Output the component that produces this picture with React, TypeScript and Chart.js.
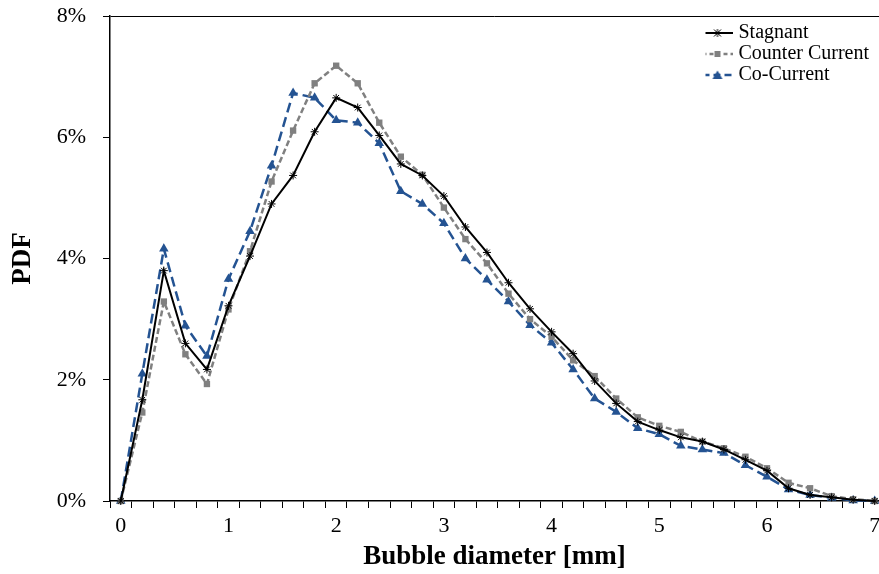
import React, { useEffect, useRef } from 'react';
import { Chart, registerables } from 'chart.js';

Chart.register(...registerables);

// Bubble diameter categories [mm]
const DIAMETERS = [0, 0.2, 0.4, 0.6, 0.8, 1.0, 1.2, 1.4, 1.6, 1.8, 2.0, 2.2, 2.4, 2.6, 2.8, 3.0, 3.2, 3.4, 3.6, 3.8, 4.0, 4.2, 4.4, 4.6, 4.8, 5.0, 5.2, 5.4, 5.6, 5.8, 6.0, 6.2, 6.4, 6.6, 6.8, 7.0];

// PDF values [%]
const STAGNANT = [0, 1.67, 3.80, 2.60, 2.17, 3.22, 4.04, 4.90, 5.37, 6.09, 6.65, 6.49, 6.03, 5.56, 5.37, 5.03, 4.52, 4.10, 3.60, 3.17, 2.79, 2.43, 1.98, 1.61, 1.31, 1.17, 1.05, 0.98, 0.85, 0.68, 0.50, 0.21, 0.10, 0.06, 0.02, 0];
const COUNTER_CURRENT = [0, 1.46, 3.29, 2.42, 1.93, 3.16, 4.12, 5.27, 6.11, 6.89, 7.18, 6.89, 6.24, 5.68, 5.38, 4.84, 4.32, 3.92, 3.42, 3.00, 2.71, 2.32, 2.06, 1.69, 1.38, 1.24, 1.14, 0.98, 0.87, 0.73, 0.54, 0.30, 0.21, 0.08, 0.03, 0];
const CO_CURRENT = [0, 2.10, 4.16, 2.89, 2.39, 3.66, 4.45, 5.53, 6.73, 6.65, 6.28, 6.24, 5.90, 5.11, 4.90, 4.58, 4.00, 3.65, 3.29, 2.90, 2.61, 2.17, 1.69, 1.47, 1.20, 1.10, 0.91, 0.85, 0.79, 0.59, 0.40, 0.19, 0.10, 0.05, 0.01, 0];

const SERIES_LABELS = ['Stagnant', 'Counter Current', 'Co-Current'];
const Y_TICKS = [0, 2, 4, 6, 8];
const X_LABEL_TICKS = [0, 1, 2, 3, 4, 5, 6, 7];
const X_MAX = 7.04;

const FONT = "'Liberation Serif', 'Times New Roman', serif";
const BLACK = '#000000';
const GRAY = '#808080';
const BLUE = '#245392';

const isInt = (v: number) => Math.abs(v - Math.round(v)) < 1e-6;

function makeIcon(color: string, dash: number[], lw: number, marker: string) {
  const c = document.createElement('canvas');
  c.width = 30;
  c.height = 12;
  const g = c.getContext('2d')!;
  g.strokeStyle = color;
  g.lineWidth = lw;
  g.setLineDash(dash);
  g.beginPath();
  g.moveTo(0, 6);
  g.lineTo(30, 6);
  g.stroke();
  g.setLineDash([]);
  g.fillStyle = color;
  g.strokeStyle = color;
  g.lineWidth = 1;
  if (marker === 'star') {
    g.beginPath();
    g.moveTo(11.5, 2.5); g.lineTo(18.5, 9.5);
    g.moveTo(18.5, 2.5); g.lineTo(11.5, 9.5);
    g.moveTo(15, 2); g.lineTo(15, 10);
    g.stroke();
  } else if (marker === 'rect') {
    g.fillRect(12, 3, 6, 6);
  } else {
    g.beginPath();
    g.moveTo(15, 1.5); g.lineTo(20, 10); g.lineTo(10, 10); g.closePath();
    g.fill();
  }
  return c;
}

export default function App() {
  const ref = useRef<HTMLCanvasElement | null>(null);

  useEffect(() => {
    if (!ref.current) return;
    const icons = [
      makeIcon(BLACK, [], 2, 'star'),
      makeIcon(GRAY, [4, 3], 2.5, 'rect'),
      makeIcon(BLUE, [7, 4], 2.5, 'triangle'),
    ];
    const toPts = (arr: number[]) => arr.map((y, i) => ({ x: DIAMETERS[i], y }));
    const xMin = DIAMETERS[0] - (DIAMETERS[1] - DIAMETERS[0]) / 2;
    const tickMarks: number[] = [xMin];
    for (let i = 0; i < DIAMETERS.length - 1; i++) tickMarks.push((DIAMETERS[i] + DIAMETERS[i + 1]) / 2);
    const xTicks = [...tickMarks, ...X_LABEL_TICKS].sort((a, b) => a - b);

    const legendPos = {
      id: 'legendPos',
      afterLayout(chart: any) {
        const lg = chart.legend;
        if (!lg) return;
        const pad = lg.options.labels.padding;
        const ca = chart.chartArea;
        lg.left = ca.right - 172.5 - pad;
        lg.top = ca.top + 7 - pad;
        lg.width = 200;
        lg.height = 120;
        lg.right = lg.left + lg.width;
        lg.bottom = lg.top + lg.height;
      },
    };

    const chart = new Chart(ref.current, {
      type: 'line',
      data: {
        datasets: [
          {
            label: SERIES_LABELS[0],
            data: toPts(STAGNANT),
            borderColor: BLACK,
            backgroundColor: BLACK,
            borderWidth: 2,
            pointStyle: 'star',
            pointRadius: 4,
            pointBorderWidth: 1,
            pointBorderColor: BLACK,
            tension: 0,
            clip: false,
          },
          {
            label: SERIES_LABELS[1],
            data: toPts(COUNTER_CURRENT),
            borderColor: GRAY,
            backgroundColor: GRAY,
            borderWidth: 2.5,
            borderDash: [6, 3],
            pointStyle: 'rect',
            pointRadius: 4.5,
            pointBorderWidth: 0,
            pointBackgroundColor: GRAY,
            tension: 0,
            clip: false,
          },
          {
            label: SERIES_LABELS[2],
            data: toPts(CO_CURRENT),
            borderColor: BLUE,
            backgroundColor: BLUE,
            borderWidth: 2.5,
            borderDash: [10, 5],
            pointStyle: 'triangle',
            pointRadius: 5.5,
            pointBorderWidth: 0,
            pointBackgroundColor: BLUE,
            tension: 0,
            clip: false,
          },
        ],
      },
      options: {
        responsive: false,
        animation: false,
        devicePixelRatio: 1,
        layout: { autoPadding: false, padding: { top: 16, left: 0, right: 0, bottom: 0 } },
        plugins: {
          tooltip: { enabled: false },
          legend: {
            display: true,
            position: 'chartArea',
            align: 'start',
            labels: {
              usePointStyle: true,
              pointStyleWidth: 22,
              boxHeight: 12,
              padding: 1,
              color: BLACK,
              font: { family: FONT, size: 20 },
              generateLabels: (ch: any) =>
                ch.data.datasets.map((ds: any, i: number) => ({
                  text: ds.label,
                  pointStyle: icons[i],
                  datasetIndex: i,
                  hidden: false,
                  lineWidth: 0,
                  strokeStyle: 'rgba(0,0,0,0)',
                  fillStyle: 'rgba(0,0,0,0)',
                  fontColor: BLACK,
                })),
            },
          },
        },
        scales: {
          x: {
            type: 'linear',
            min: xMin,
            max: X_MAX,
            afterBuildTicks: (scale: any) => {
              scale.ticks = xTicks.map((v) => ({ value: v }));
            },
            afterFit: (scale: any) => {
              scale.height = 73;
              scale.paddingLeft = 0;
              scale.paddingRight = 0;
            },
            ticks: {
              autoSkip: false,
              maxRotation: 0,
              minRotation: 0,
              padding: 5,
              color: BLACK,
              font: { family: FONT, size: 22 },
              callback: (v: any) => (isInt(Number(v)) ? String(Math.round(Number(v))) : ''),
            },
            grid: {
              drawOnChartArea: false,
              drawTicks: true,
              tickLength: 7,
              lineWidth: 1,
              color: (ctx: any) => (ctx.tick && isInt(ctx.tick.value) ? 'rgba(0,0,0,0)' : BLACK),
              tickColor: (ctx: any) => (ctx.tick && isInt(ctx.tick.value) ? 'rgba(0,0,0,0)' : BLACK),
            },
            border: { display: true, color: BLACK, width: 1.5 },
            title: {
              display: true,
              text: 'Bubble diameter [mm]',
              color: BLACK,
              font: { family: FONT, size: 27, weight: 'bold' },
              padding: { top: 0, bottom: 1 },
            },
          },
          y: {
            type: 'linear',
            min: Y_TICKS[0],
            max: Y_TICKS[Y_TICKS.length - 1],
            afterBuildTicks: (scale: any) => {
              scale.ticks = Y_TICKS.map((v) => ({ value: v }));
            },
            afterFit: (scale: any) => {
              scale.width = 110;
              scale.paddingTop = 0;
              scale.paddingBottom = 0;
            },
            ticks: {
              padding: 17,
              color: BLACK,
              font: { family: FONT, size: 22 },
              callback: (v: any) => `${v}%`,
            },
            grid: {
              drawOnChartArea: true,
              drawTicks: true,
              tickLength: 7,
              lineWidth: 1,
              color: (ctx: any) => (ctx.tick && ctx.tick.value === Y_TICKS[Y_TICKS.length - 1] ? BLACK : 'rgba(0,0,0,0)'),
              tickColor: BLACK,
            },
            border: { display: true, color: BLACK, width: 1.5 },
            title: {
              display: true,
              text: 'PDF',
              color: BLACK,
              font: { family: FONT, size: 27, weight: 'bold' },
              padding: { top: 7, bottom: 0 },
            },
          },
        },
      } as any,
      plugins: [legendPos],
    });
    return () => chart.destroy();
  }, []);

  return (
    <div style={{ position: 'fixed', left: 0, top: 0, width: 879, height: 574, background: '#fff' }}>
      <canvas ref={ref} width={879} height={574} />
    </div>
  );
}
